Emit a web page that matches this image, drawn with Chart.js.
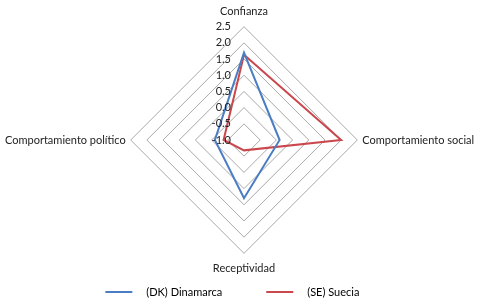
<!DOCTYPE html>
<html>
<head>
<meta charset="utf-8">
<script src="https://cdn.jsdelivr.net/npm/chart.js@4/dist/chart.umd.min.js"></script>
<style>
  html, body { margin: 0; padding: 0; background: #fff; }
  #wrap { width: 480px; height: 302px; position: relative; }
</style>
</head>
<body>
<div id="wrap"><canvas id="chartCanvas"></canvas></div>
<script>
var categories = ['Confianza', 'Comportamiento social', 'Receptividad', 'Comportamiento político'];
var seriesNames = ['(DK) Dinamarca', '(SE) Suecia'];
var dkValues = [1.7, 0.1, 0.8, -0.1];
var seValues = [1.63, 2.0, -0.68, -0.37];
var tickMin = -1.0;
var tickMax = 2.5;
var tickStep = 0.5;

var FONT = 'Lato, sans-serif';
var FSIZE = 11;
var PAD_V = 9;   // gap above / below the top and bottom labels
var PAD_H = 5;   // gap beside the side labels
var RADIUS = 117;
var CX = 241;

// measure the side labels so the radar sits where the original one does
var mctx = document.createElement('canvas').getContext('2d');
mctx.font = FSIZE + 'px ' + FONT;
function textW(s) { return mctx.measureText(s).width; }

var wLeft = textW(categories[3]);
var wRight = textW(categories[1]);
var move = PAD_V + FSIZE * 1.2;
var d0 = Math.floor(RADIUS + move);
var sumLR = 2 * (240 + move - d0 - PAD_H - 0.5 - wLeft);
var diffLR = 2 * (CX - 240) - (wLeft - wRight);
var padL = (sumLR + diffLR) / 2;
var padR = (sumLR - diffLR) / 2;
var padT = 140 - d0;

// legend entries padded with spaces to the spacing of the original
function padText(s, target) {
  while (textW(s) < target) s += ' ';
  return s;
}
var legendTargets = [120, 67];

var tickLabelPlugin = {
  id: 'tickLabels',
  afterDatasetsDraw: function(chart) {
    var r = chart.scales.r;
    var c = chart.ctx;
    c.save();
    c.font = FSIZE + 'px ' + FONT;
    c.fillStyle = '#222';
    c.textAlign = 'right';
    c.textBaseline = 'middle';
    r.ticks.forEach(function(t) {
      var d = r.getDistanceFromCenterForValue(t.value);
      c.fillText(t.value.toFixed(1), r.xCenter - 13, r.yCenter - d);
    });
    c.restore();
  }
};

var ctx = document.getElementById('chartCanvas').getContext('2d');
new Chart(ctx, {
  type: 'radar',
  data: {
    labels: categories,
    datasets: [
      {
        label: seriesNames[0],
        data: dkValues,
        borderColor: '#4a7dc4',
        backgroundColor: 'transparent',
        borderWidth: 2,
        pointRadius: 0,
        fill: false
      },
      {
        label: seriesNames[1],
        data: seValues,
        borderColor: '#c9474d',
        backgroundColor: 'transparent',
        borderWidth: 2,
        pointRadius: 0,
        fill: false
      }
    ]
  },
  plugins: [tickLabelPlugin],
  options: {
    responsive: true,
    maintainAspectRatio: false,
    animation: false,
    layout: { padding: { top: padT, bottom: -5.5, left: padL, right: padR } },
    plugins: {
      legend: {
        position: 'bottom',
        labels: {
          font: { family: FONT, size: FSIZE },
          color: '#222',
          boxWidth: 27,
          boxHeight: 2,
          padding: 7.5,
          generateLabels: function(chart) {
            return chart.data.datasets.map(function(ds, i) {
              return {
                text: padText('   ' + ds.label, legendTargets[i]),
                fillStyle: ds.borderColor,
                strokeStyle: ds.borderColor,
                lineWidth: 0,
                datasetIndex: i
              };
            });
          }
        }
      },
      tooltip: { enabled: false }
    },
    scales: {
      r: {
        min: tickMin,
        max: tickMax,
        ticks: { stepSize: tickStep, display: false },
        grid: { color: '#a8a8a8', lineWidth: 1 },
        angleLines: { display: false },
        pointLabels: {
          color: '#222',
          font: { family: FONT, size: FSIZE },
          padding: function(c) { return c.index % 2 === 0 ? PAD_V : PAD_H; }
        }
      }
    }
  }
});
</script>
</body>
</html>
